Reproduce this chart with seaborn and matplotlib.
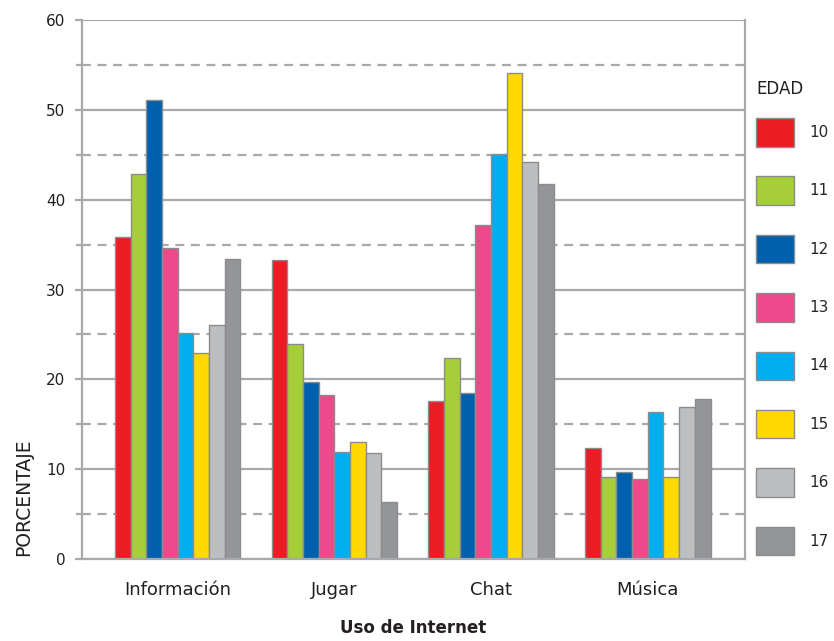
import matplotlib
matplotlib.use("Agg")
import matplotlib.pyplot as plt
import seaborn as sns
import pandas as pd
from matplotlib.ticker import MultipleLocator

categorias = ["Información", "Jugar", "Chat", "Música"]
edades = ["10", "11", "12", "13", "14", "15", "16", "17"]
edad_10 = [35.8, 33.3, 17.6, 12.4]
edad_11 = [42.9, 23.9, 22.4, 9.1]
edad_12 = [51.1, 19.7, 18.5, 9.7]
edad_13 = [34.6, 18.3, 37.2, 8.9]
edad_14 = [25.2, 11.9, 45.1, 16.4]
edad_15 = [22.9, 13.0, 54.1, 9.1]
edad_16 = [26.0, 11.8, 44.2, 16.9]
edad_17 = [33.4, 6.3, 41.7, 17.8]
colores = ["#ED1C24", "#A6CE39", "#0060AE", "#EC4A8A",
           "#00AEEF", "#FFD900", "#BCBEC0", "#939598"]

series = [edad_10, edad_11, edad_12, edad_13, edad_14, edad_15, edad_16, edad_17]
rows = []
for e, vals in zip(edades, series):
    for c, v in zip(categorias, vals):
        rows.append({"Uso": c, "Edad": e, "Valor": v})
df = pd.DataFrame(rows)

sns.set_theme(style="white")
plt.rcParams["font.family"] = ["DejaVu Sans"]

fig = plt.figure(figsize=(8.34, 6.41), dpi=100)
ax = fig.add_axes([82/834, 1-559/641, (745-82)/834, (559-20)/641])

grid_c = "#A7A9AC"
ax.set_axisbelow(True)
sns.barplot(data=df, x="Uso", y="Valor", hue="Edad", hue_order=edades,
            order=categorias, palette=colores, width=0.8,
            edgecolor="#8C8C8C", linewidth=1.0, ax=ax, legend=True,
            saturation=1)

ax.set_ylim(0, 60)
ax.set_xlim(-0.61, 3.62)
ax.yaxis.set_major_locator(MultipleLocator(10))
ax.yaxis.set_minor_locator(MultipleLocator(5))
ax.grid(axis="y", which="major", color=grid_c, linewidth=1.6, linestyle="-")
ax.grid(axis="y", which="minor", color=grid_c, linewidth=1.6, linestyle=(0, (4, 3)))
ax.grid(axis="x", visible=False)

for s in ["left", "bottom", "right", "top"]:
    ax.spines[s].set_color(grid_c)
    ax.spines[s].set_linewidth(1.6)
ax.spines["top"].set_visible(False)

ax.tick_params(axis="y", which="major", left=True, length=5, width=1.6,
               color=grid_c, pad=7, labelsize=11, labelcolor="#231F20")
ax.tick_params(axis="y", which="minor", left=True, length=4, width=1.6, color=grid_c)
ax.tick_params(axis="x", bottom=False, pad=10, labelsize=13, labelcolor="#231F20")

ax.set_xlabel("Uso de Internet", fontsize=12, fontweight="bold", color="#231F20", labelpad=14)
ax.set_ylabel("PORCENTAJE", fontsize=13.5, color="#231F20")
ax.yaxis.set_label_coords(-0.074, 0.115)

handles, labels = ax.get_legend_handles_labels()
ax.get_legend().remove()
leg = fig.legend(handles, labels, loc="upper left",
                 bbox_to_anchor=(750/834, 1-112/641), frameon=False,
                 fontsize=11, handlelength=2.5, handleheight=2.5,
                 labelspacing=1.95, handletextpad=1.0, borderaxespad=0)
fig.text(756/834, 1-89/641, "EDAD", fontsize=12, color="#231F20",
         ha="left", va="center")

fig.savefig("out.png", dpi=100)
